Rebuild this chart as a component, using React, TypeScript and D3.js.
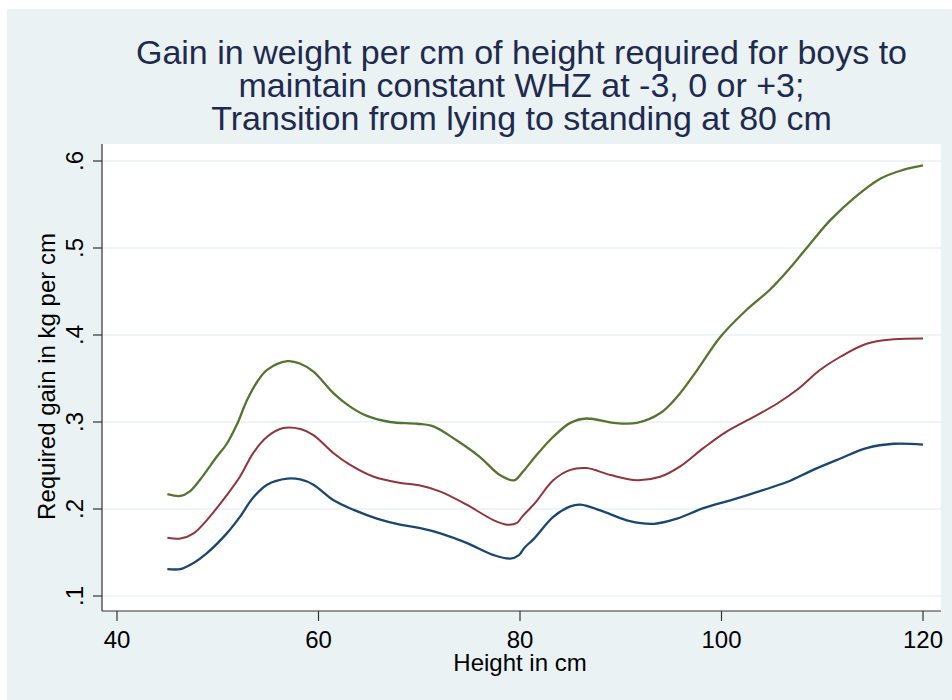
import React from "react";
import * as d3 from "d3";

const titleLines = [
  "Gain in weight per cm of height required for boys to",
  "maintain constant WHZ at -3, 0 or +3;",
  "Transition from lying to standing at 80 cm",
];
const xTicks = [40, 60, 80, 100, 120];
const yTicks = [0.1, 0.2, 0.3, 0.4, 0.5, 0.6];
const yTickLabels = [".1", ".2", ".3", ".4", ".5", ".6"];
const xLabel = "Height in cm";
const yLabel = "Required gain in kg per cm";

// +3 WHZ
const plus3H = [45, 46.3, 47.2, 48.2, 49.9, 50.9, 51.9, 52.9, 53.9, 54.9, 56.9, 58.2, 59.5, 61.5, 63.1, 64.8, 67.1, 69.8, 71.4, 73.7, 76.0, 78.0, 79.4, 80.3, 81.5, 83.3, 85.0, 86.6, 89.3, 91.6, 93.9, 95.6, 97.6, 99.9, 102.5, 104.8, 106.8, 108.8, 110.8, 113.2, 115.8, 118.1, 120];
const plus3V = [0.217, 0.215, 0.220, 0.233, 0.260, 0.275, 0.297, 0.325, 0.346, 0.360, 0.370, 0.367, 0.358, 0.333, 0.318, 0.307, 0.300, 0.298, 0.295, 0.279, 0.260, 0.239, 0.233, 0.243, 0.260, 0.283, 0.299, 0.304, 0.299, 0.299, 0.310, 0.329, 0.360, 0.398, 0.429, 0.452, 0.477, 0.505, 0.532, 0.558, 0.580, 0.590, 0.595];
// 0 WHZ
const zeroH = [45, 46.3, 47.6, 48.9, 50.9, 52.2, 53.5, 54.9, 56.5, 58.2, 59.5, 61.5, 63.1, 65.5, 68.1, 70.1, 72.1, 74.7, 77.4, 78.7, 79.7, 80.2, 81.5, 83.3, 85.0, 86.6, 89.0, 91.6, 93.9, 95.9, 98.2, 100.5, 103.2, 105.5, 107.5, 109.8, 111.8, 114.4, 117.1, 120];
const zeroV = [0.167, 0.166, 0.172, 0.187, 0.216, 0.237, 0.264, 0.283, 0.293, 0.292, 0.285, 0.264, 0.251, 0.237, 0.230, 0.227, 0.220, 0.205, 0.187, 0.182, 0.184, 0.191, 0.207, 0.233, 0.245, 0.247, 0.239, 0.233, 0.237, 0.249, 0.270, 0.289, 0.306, 0.321, 0.337, 0.360, 0.375, 0.390, 0.395, 0.396];
// -3 WHZ
const minus3H = [45, 46.3, 47.6, 48.9, 50.9, 52.2, 53.5, 54.9, 56.9, 58.2, 59.5, 61.5, 63.5, 65.8, 68.1, 70.1, 72.1, 74.7, 77.4, 79.0, 79.9, 80.4, 81.4, 83.3, 85.0, 86.0, 88.3, 90.9, 93.3, 95.6, 98.2, 101.2, 104.2, 106.5, 109.1, 111.8, 114.4, 117.1, 120];
const minus3V = [0.131, 0.131, 0.138, 0.149, 0.172, 0.191, 0.213, 0.228, 0.235, 0.234, 0.228, 0.210, 0.199, 0.189, 0.182, 0.178, 0.172, 0.161, 0.147, 0.143, 0.147, 0.155, 0.166, 0.191, 0.203, 0.205, 0.197, 0.186, 0.183, 0.189, 0.201, 0.211, 0.222, 0.231, 0.245, 0.258, 0.270, 0.275, 0.274];

const seriesColors = ["#1a476f", "#90353b", "#55752f"];

export default function App() {
  const W = 952, H = 700;
  const plot = { left: 102, right: 941, top: 144, bottom: 611 };
  const x = d3.scaleLinear().domain([40, 120]).range([117, 923]);
  const y = d3.scaleLinear().domain([0.1, 0.6]).range([596, 161]);
  const line = d3
    .line<[number, number]>()
    .x((d) => x(d[0]))
    .y((d) => y(d[1]))
    .curve(d3.curveCatmullRom.alpha(0.5));
  const series = [
    { h: minus3H, v: minus3V },
    { h: zeroH, v: zeroV },
    { h: plus3H, v: plus3V },
  ];
  const font = "'Liberation Sans', Arial, sans-serif";
  const cx = (plot.left + plot.right) / 2;
  return (
    <svg
      width={W}
      height={H}
      style={{ position: "absolute", left: 0, top: 0 }}
      fontFamily={font}
    >
      <rect x={0} y={0} width={W} height={H} fill="#ffffff" />
      <rect x={7} y={9} width={W - 7} height={H - 9} fill="#eaf2f3" />
      <rect
        x={plot.left}
        y={plot.top}
        width={plot.right - plot.left}
        height={plot.bottom - plot.top}
        fill="#ffffff"
      />
      {yTicks.map((t) => (
        <line
          key={"g" + t}
          x1={plot.left}
          x2={plot.right}
          y1={y(t)}
          y2={y(t)}
          stroke="#eaf2f3"
          strokeWidth={1.5}
        />
      ))}
      {series.map((s, i) => (
        <path
          key={i}
          d={line(s.h.map((h, j) => [h, s.v[j]] as [number, number])) || ""}
          fill="none"
          stroke={seriesColors[i]}
          strokeWidth={i === 1 ? 2 : 2.3}
          strokeLinejoin="round"
        />
      ))}
      <line x1={plot.left} x2={plot.left} y1={plot.top} y2={plot.bottom} stroke="#333" strokeWidth={1.2} />
      <line x1={plot.left} x2={plot.right} y1={plot.bottom} y2={plot.bottom} stroke="#333" strokeWidth={1.2} />
      {yTicks.map((t, i) => (
        <g key={"yt" + t}>
          <line x1={plot.left - 9} x2={plot.left} y1={y(t)} y2={y(t)} stroke="#333" strokeWidth={1.2} />
          <text
            transform={`translate(83,${y(t)}) rotate(-90)`}
            textAnchor="middle"
            fontSize={24}
            fill="#000"
          >
            {yTickLabels[i]}
          </text>
        </g>
      ))}
      {xTicks.map((t) => (
        <g key={"xt" + t}>
          <line x1={x(t)} x2={x(t)} y1={plot.bottom} y2={plot.bottom + 10} stroke="#333" strokeWidth={1.2} />
          <text x={x(t)} y={647.5} textAnchor="middle" fontSize={24} fill="#000">
            {t}
          </text>
        </g>
      ))}
      <text x={x(80)} y={671} textAnchor="middle" fontSize={24} fill="#000">
        {xLabel}
      </text>
      <text
        transform={`translate(55,376.5) rotate(-90)`}
        textAnchor="middle"
        fontSize={24}
        fill="#000"
      >
        {yLabel}
      </text>
      {titleLines.map((t, i) => (
        <text key={i} x={cx} y={64 + i * 33} textAnchor="middle" fontSize={34} fill="#1e2a4e">
          {t}
        </text>
      ))}
    </svg>
  );
}
